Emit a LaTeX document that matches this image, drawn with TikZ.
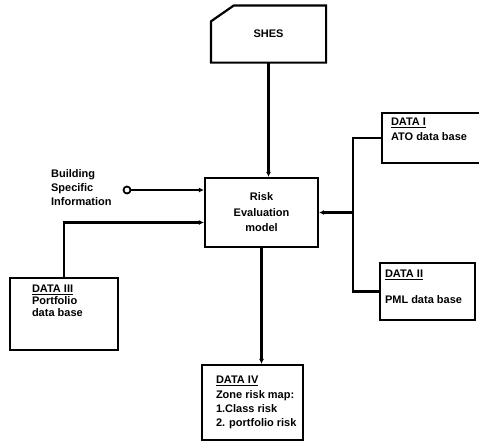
\documentclass[tikz,border=0pt]{standalone}
\usepackage{fontspec}
\setmainfont{Liberation Sans}
\usetikzlibrary{positioning,arrows.meta}

\begin{document}
\begin{tikzpicture}[x=1pt, y=-1pt, line width=2.2pt, >={Latex[length=5pt,width=5pt]},
    box/.style={draw, rectangle, inner sep=0pt},
    txt/.style={font=\bfseries\fontsize{11}{14}\selectfont, align=left, inner sep=0pt}]

\clip (0,0) rectangle (479,447);

% SHES (cut corner box)
\node [txt, minimum width=113pt, minimum height=55pt] (shes) at (268.5,34) {SHES};
\draw (shes.south west) -- ([yshift=-16pt]shes.north west)
    -- ([xshift=23pt]shes.north west) -- (shes.north east)
    -- (shes.south east) -- cycle;

% Risk evaluation model
\node [box, txt, align=center, font=\bfseries\fontsize{11}{15.5}\selectfont,
    minimum width=113pt, minimum height=69pt] (risk) at (261.5,212.5)
    {Risk\\Evaluation\\model};

% Building specific information
\node [txt, anchor=west] (bsitxt) at (50,188) {Building\\Specific\\Information};
\node [draw, circle, inner sep=0pt, minimum size=7pt, line width=1.8pt] (bsi) at (127,190) {};

% Data bases
\node [box, minimum width=103pt, minimum height=50pt] (data1) at (433.5,138) {};
\node [txt, anchor=north west] (data1txt) at ([shift={(9pt,-5pt)}]data1.north west)
    {\underline{DATA I}\\[1pt]ATO data base};

\node [box, minimum width=95pt, minimum height=57pt] (data2) at (427.5,291.5) {};
\node [txt, anchor=north west] (data2txt) at ([shift={(5pt,-7pt)}]data2.north west)
    {\underline{DATA II}\\[12pt]PML data base};

\node [box, minimum width=108pt, minimum height=72pt] (data3) at (64,314) {};
\node [txt, anchor=north west] (data3txt) at ([shift={(22pt,-7pt)}]data3.north west)
    {\underline{DATA III}\\[-2pt]Portfolio\\[-2pt]data base};

\node [box, minimum width=101pt, minimum height=75pt] (data4) at (252.5,402.5) {};
\node [txt, anchor=north west] (data4txt) at ([shift={(14pt,-11pt)}]data4.north west)
    {\underline{DATA IV}\\[1pt]Zone risk map:\\1.Class risk\\2. portfolio risk};

% Connectors
\coordinate (bus) at ([xshift=34pt]risk.east);

\draw [->] (shes.south) -- (shes.south |- risk.north);
\draw [->] (bsi) -- (bsi -| risk.west);
\draw [->] (data3.north) |- ([yshift=-10pt]risk.west);
\draw (data1.west) -| (bus) |- (data2.west);
\draw [->] (bus) -- (risk.east);
\draw [->] (risk.south) -- (risk.south |- data4.north);

\end{tikzpicture}
\end{document}
